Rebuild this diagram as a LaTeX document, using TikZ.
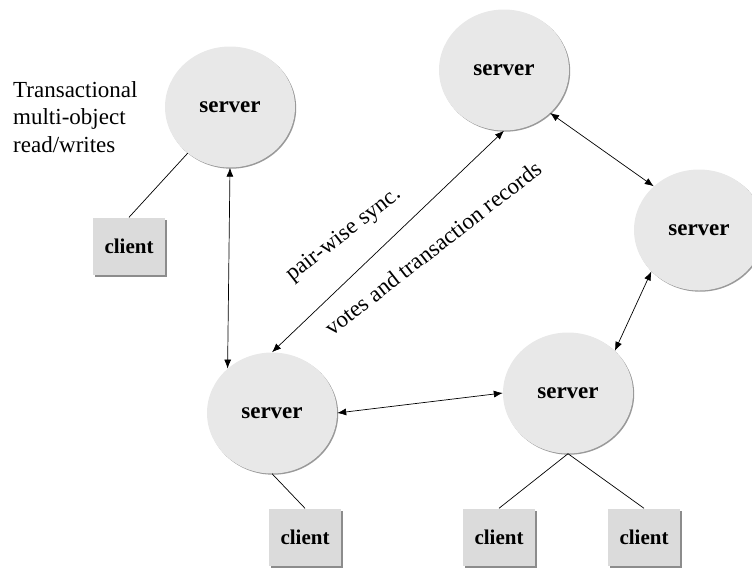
\documentclass[tikz,border=0pt]{standalone}
\usepackage{fontspec}
\setmainfont{Liberation Serif}
\usetikzlibrary{arrows.meta,shapes.geometric,shadows}

\begin{document}
\begin{tikzpicture}[x=1pt,y=-1pt,
  server/.style={ellipse, fill=gray!18, minimum width=130pt, minimum height=121pt, inner sep=0pt,
    font=\fontsize{23}{27}\selectfont\bfseries,
    drop shadow={shadow xshift=1.2pt, shadow yshift=-1.2pt, fill=gray!80, opacity=1}},
  client/.style={rectangle, fill=gray!28, minimum width=72pt, minimum height=57pt, inner sep=0pt,
    font=\fontsize{21}{25}\selectfont\bfseries,
    drop shadow={shadow xshift=2pt, shadow yshift=-2pt, fill=gray!90, opacity=1}},
  note/.style={font=\fontsize{23}{27.5}\selectfont, inner sep=0pt},
  sync/.style={line width=0.7pt, {Latex[length=9pt,width=7pt]}-{Latex[length=9pt,width=7pt]}},
  link/.style={line width=0.7pt}]

\useasboundingbox (0,0) rectangle (752,571);

% Servers
\node[server] (s1) at (230,107) {server};
\node[server] (s2) at (504,70) {server};
\node[server] (s3) at (699,230) {server};
\node[server] (s4) at (272,413) {server};
\node[server] (s5) at (568,393) {server};

% Clients
\node[client] (c1) at (129,246) {client};
\node[client] (c2) at (305,537) {client};
\node[client] (c3) at (499,537) {client};
\node[client] (c4) at (644,537) {client};

% Client links
\draw[link] (c1.north) -- (s1);
\draw[link] (s4.south) -- (c2.north);
\draw[link] (s5.south) -- (c3.north);
\draw[link] (s5.south) -- (c4.north);

% Sync arrows between servers
\draw[sync] (s1.south) -- (s4.135);
\draw[sync] (s4.north) -- (s2.south);
\draw[sync] (s2.-43) -- (s3.136);
\draw[sync] (s3.221) -- (s5.42);
\draw[sync] (s4.east) -- (s5.west);

% Labels
\node[note, align=left, anchor=north west] (rwnote) at (13,81) {Transactional\\multi-object\\read/writes};
\node[note, rotate=38] (syncnote) at (344,235) {pair-wise sync.};
\node[note, rotate=38] (votenote) at (433,248) {votes and transaction records};

\end{tikzpicture}
\end{document}
